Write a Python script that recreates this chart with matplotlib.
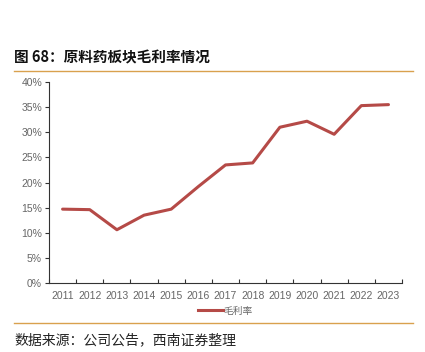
import matplotlib
matplotlib.use("Agg")
import matplotlib.pyplot as plt
from matplotlib.lines import Line2D

plt.rcParams['font.family'] = ['Liberation Sans', 'Noto Sans CJK SC', 'DejaVu Sans']

years = ['2011', '2012', '2013', '2014', '2015', '2016', '2017', '2018', '2019', '2020', '2021', '2022', '2023']
gross_margin = [14.7, 14.6, 10.6, 13.5, 14.7, 19.2, 23.5, 23.9, 31.0, 32.2, 29.6, 35.3, 35.5]
yticks = [0, 5, 10, 15, 20, 25, 30, 35, 40]
title = '图 68：原料药板块毛利率情况'
source = '数据来源：公司公告，西南证券整理'
series_name = '毛利率'

line_color = '#B54A47'
rule_color = '#D9A14E'
grey = '#666666'

fig = plt.figure(figsize=(4.25, 3.52), dpi=100)
ax = fig.add_axes([0.1153, 0.196, 0.8307, 0.571])

x = list(range(len(years)))
ax.plot(x, gross_margin, color=line_color, linewidth=2.2, solid_capstyle='round', solid_joinstyle='round')

ax.set_xlim(-0.5, len(years) - 0.5)
ax.set_ylim(0, 40)
ax.set_yticks(yticks)
ax.set_yticklabels([f'{v}%' for v in yticks], color=grey, fontsize=7.5)
ax.set_xticks(x)
ax.set_xticklabels(years, color=grey, fontsize=7.5)
ax.tick_params(axis='x', length=0, pad=6)
ax.set_xticks([i - 0.5 for i in range(len(years) + 1)], minor=True)
ax.tick_params(axis='x', which='minor', direction='in', length=3, color='#333333', width=0.8)
ax.tick_params(axis='y', direction='out', length=3, color='#333333', width=0.8, pad=2)
for s in ['top', 'right']:
    ax.spines[s].set_visible(False)
ax.spines['left'].set_color('#333333')
ax.spines['bottom'].set_color('#333333')
ax.spines['left'].set_linewidth(0.8)
ax.spines['bottom'].set_linewidth(0.8)

handle = Line2D([0], [0], color=line_color, linewidth=2.2)
fig.legend([handle], [series_name], loc='center', bbox_to_anchor=(0.53, 0.117),
           frameon=False, prop={'family': ['Noto Sans CJK SC'], 'size': 7},
           handlelength=2.6, handletextpad=0.1, labelcolor=grey)

fig.text(0.033, 0.838, title, fontsize=10.5, fontweight='bold',
         family=['Noto Sans CJK SC', 'DejaVu Sans'], color='#111111', va='center', ha='left')
fig.add_artist(Line2D([0.033, 0.972], [0.798, 0.798], color=rule_color, linewidth=1.0, transform=fig.transFigure))
fig.add_artist(Line2D([0.033, 0.972], [0.082, 0.082], color=rule_color, linewidth=1.0, transform=fig.transFigure))
fig.text(0.033, 0.034, source, fontsize=10, family=['Noto Sans CJK SC', 'DejaVu Sans'],
         color='#222222', va='center', ha='left', style='italic')

fig.savefig('out.png', dpi=100)
